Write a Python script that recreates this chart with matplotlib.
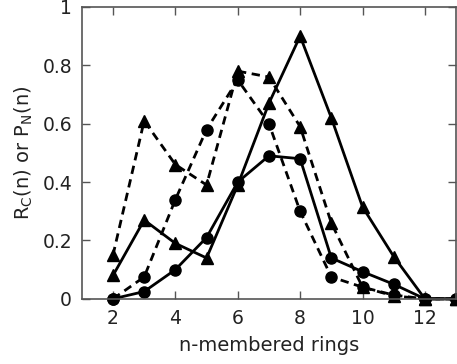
import numpy as np
import matplotlib
matplotlib.use('Agg')
import matplotlib.pyplot as plt

n = [2, 3, 4, 5, 6, 7, 8, 9, 10, 11, 12, 13]

# dashed, triangles
tri_dash = [0.15, 0.61, 0.46, 0.39, 0.78, 0.76, 0.59, 0.26, 0.04, 0.01, 0.0, 0.0]
# dashed, circles
circ_dash = [0.0, 0.075, 0.34, 0.58, 0.75, 0.60, 0.30, 0.075, 0.04, 0.013, 0.0, 0.0]
# solid, triangles
tri_solid = [0.08, 0.27, 0.19, 0.14, 0.39, 0.67, 0.90, 0.62, 0.315, 0.145, 0.0, 0.0]
# solid, circles
circ_solid = [0.0, 0.025, 0.10, 0.21, 0.40, 0.49, 0.48, 0.14, 0.093, 0.05, 0.0, 0.0]

plt.rcParams['font.family'] = ['DejaVu Sans']

fig = plt.figure(figsize=(4.57, 3.64), dpi=100)
ax = fig.add_axes([0.179, 0.179, 0.819, 0.802])

dash = (0, (3, 2))
ax.plot(n, tri_dash, color='black', lw=2, ls=dash, marker='^', ms=8, clip_on=False)
ax.plot(n, circ_dash, color='black', lw=2, ls=dash, marker='o', ms=8, clip_on=False)
ax.plot(n, tri_solid, color='black', lw=2, marker='^', ms=8, clip_on=False)
ax.plot(n, circ_solid, color='black', lw=2, marker='o', ms=8, clip_on=False)

ax.set_xlim(1, 13)
ax.set_ylim(0, 1)
ax.set_xticks([2, 4, 6, 8, 10, 12])
ax.set_yticks([0, 0.2, 0.4, 0.6, 0.8, 1])
ax.set_yticklabels(['0', '0.2', '0.4', '0.6', '0.8', '1'])
ax.tick_params(direction='in', top=True, right=True, length=6, width=1,
               color='#555555', labelsize=13.5, labelcolor='#222222', pad=7)
for s in ax.spines.values():
    s.set_color('#555555')
    s.set_linewidth(1.2)

ax.set_xlabel('n-membered rings', fontsize=14, color='#222222', labelpad=6)
ax.set_ylabel('R$_\\mathregular{C}$(n) or P$_\\mathregular{N}$(n)', fontsize=14,
              color='#222222', labelpad=5)

fig.savefig('out.png', dpi=100)
